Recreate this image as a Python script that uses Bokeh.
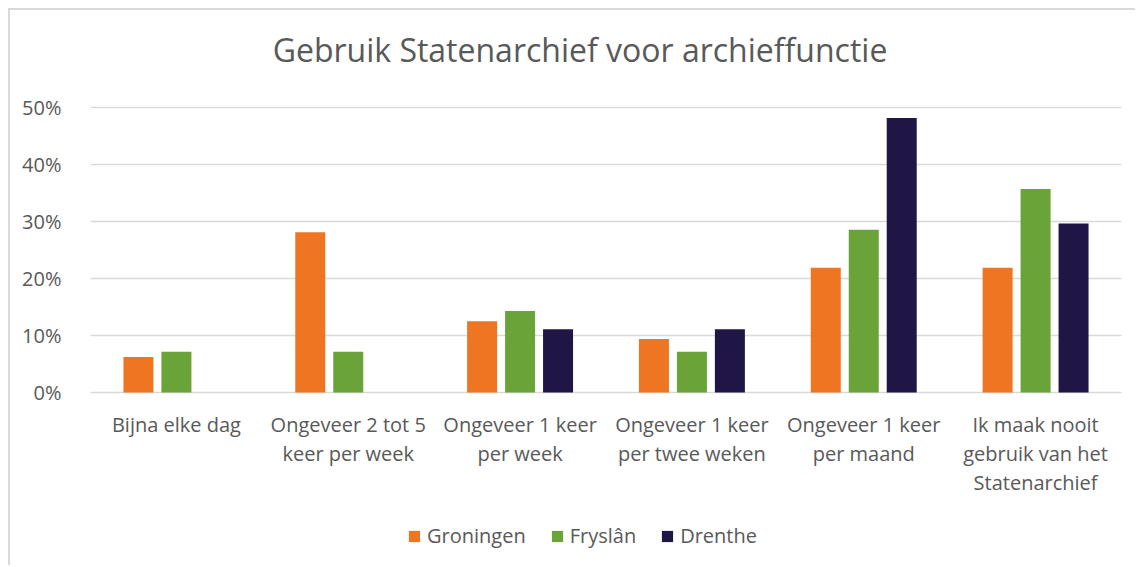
from bokeh.plotting import figure
from bokeh.models import (ColumnDataSource, FactorRange, Range1d, FixedTicker,
                          NumeralTickFormatter, Label)
from bokeh.transform import dodge
from bokeh.embed import file_html
from bokeh.resources import INLINE

# ---- data ----
categories = [
    "Bijna elke dag",
    "Ongeveer 2 tot 5\nkeer per week",
    "Ongeveer 1 keer\nper week",
    "Ongeveer 1 keer\nper twee weken",
    "Ongeveer 1 keer\nper maand",
    "Ik maak nooit\ngebruik van het\nStatenarchief",
]
groningen = [0.0625, 0.28125, 0.125, 0.09375, 0.21875, 0.21875]
fryslan = [0.0714, 0.0714, 0.1429, 0.0714, 0.2857, 0.3571]
drenthe = [0.0, 0.0, 0.1111, 0.1111, 0.4815, 0.2963]
series_names = ["Groningen", "Fryslân", "Drenthe"]
series_colors = ["#EE7623", "#6AA439", "#201646"]
y_ticks = [0, 0.1, 0.2, 0.3, 0.4, 0.5]
title_text = "Gebruik Statenarchief voor archieffunctie"

FONT = "Open Sans"
TXT = "#595959"
GRID = "#d9d9d9"

source = ColumnDataSource(dict(cat=categories, Groningen=groningen,
                               Fryslan=fryslan, Drenthe=drenthe))

# frame spans the full chart height; 570 px per unit, 0 at page y=392
PX = 570.0
p = figure(width=1127, height=557, output_backend="svg", toolbar_location=None,
           x_range=FactorRange(*categories),
           y_range=Range1d(-175 / PX, 382 / PX),
           min_border_left=80, min_border_right=16,
           min_border_top=0, min_border_bottom=0)
p.styles = {"margin-left": "8px", "margin-top": "8px",
            "border-left": "2px solid #d9d9d9", "border-top": "2px solid #d9d9d9"}
p.outline_line_color = None
p.background_fill_color = "white"
p.border_fill_color = "white"

fields = ["Groningen", "Fryslan", "Drenthe"]
offsets = [-0.221, 0.0, 0.221]
for f, name, col, off in zip(fields, series_names, series_colors, offsets):
    p.vbar(x=dodge("cat", off, range=p.x_range), top=f, bottom=0, width=0.1746,
           source=source, fill_color=col, line_color=None, legend_label=name)

# axes
p.yaxis.ticker = FixedTicker(ticks=y_ticks)
p.yaxis.formatter = NumeralTickFormatter(format="0%")
p.yaxis.axis_line_color = None
p.yaxis.major_tick_line_color = None
p.yaxis.minor_tick_line_color = None
p.yaxis.major_label_standoff = 23
p.yaxis.major_label_text_font = FONT
p.yaxis.major_label_text_font_size = "20px"
p.yaxis.major_label_text_color = TXT

p.xaxis.fixed_location = 0
p.xaxis.axis_line_color = None
p.xaxis.major_tick_line_color = None
p.xaxis.major_tick_out = 0
p.xaxis.major_label_standoff = 18
p.xaxis.major_label_text_font = FONT
p.xaxis.major_label_text_font_size = "20px"
p.xaxis.major_label_text_color = TXT
p.xaxis.major_label_text_line_height = 1.08

p.xgrid.grid_line_color = None
p.ygrid.grid_line_color = GRID
p.ygrid.grid_line_width = 1.5
p.ygrid.ticker = FixedTicker(ticks=y_ticks)

# title (inside the frame, screen units from frame bottom-left)
p.add_layout(Label(x=489.5, y=518, x_units="screen", y_units="screen",
                   text=title_text, text_align="center", text_baseline="alphabetic",
                   text_font=FONT, text_font_size="32px", text_color=TXT))

# legend
lg = p.legend[0]
lg.orientation = "horizontal"
lg.padding = 0
lg.margin = 0
lg.location = (317, 18)
lg.spacing = 24
lg.glyph_width = 14
lg.glyph_height = 14
lg.label_standoff = 6
lg.label_text_font = FONT
lg.label_text_font_size = "20px"
lg.label_text_color = TXT
lg.border_line_color = None
lg.background_fill_alpha = 0

open("out.html", "w").write(file_html(p, INLINE))
